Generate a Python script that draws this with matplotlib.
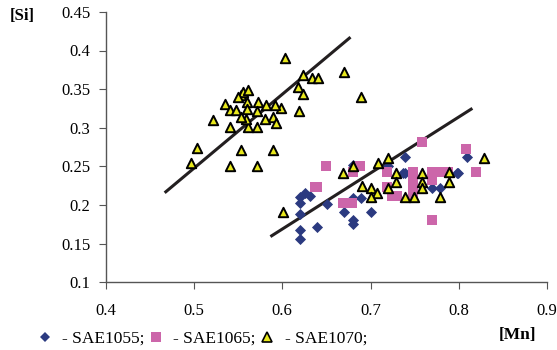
import matplotlib
matplotlib.use("Agg")
from matplotlib import pyplot as plt
from matplotlib.lines import Line2D

# SAE1055 (diamonds)
mn_1055 = [0.626, 0.620, 0.631, 0.620, 0.651, 0.620, 0.620, 0.620, 0.639, 0.670,
           0.680, 0.680, 0.700, 0.689, 0.680, 0.737, 0.680, 0.720, 0.739, 0.739,
           0.770, 0.779, 0.799, 0.809, 0.798]
si_1055 = [0.215, 0.210, 0.212, 0.202, 0.201, 0.188, 0.167, 0.156, 0.171, 0.191,
           0.180, 0.175, 0.191, 0.209, 0.209, 0.241, 0.252, 0.250, 0.262, 0.241,
           0.222, 0.222, 0.241, 0.262, 0.241]

# SAE1065 (squares)
mn_1065 = [0.649, 0.639, 0.688, 0.669, 0.679, 0.758, 0.808, 0.820, 0.770, 0.719,
           0.719, 0.724, 0.730, 0.748, 0.748, 0.748, 0.770, 0.779, 0.770, 0.748,
           0.788, 0.637, 0.680]
si_1065 = [0.251, 0.223, 0.251, 0.202, 0.202, 0.281, 0.272, 0.242, 0.181, 0.242,
           0.223, 0.211, 0.211, 0.242, 0.232, 0.223, 0.242, 0.242, 0.232, 0.213,
           0.242, 0.223, 0.242]

# SAE1070 (triangles)
mn_1070 = [0.619, 0.590, 0.601, 0.669, 0.680, 0.708, 0.720, 0.690, 0.700, 0.707,
           0.700, 0.720, 0.729, 0.729, 0.739, 0.749, 0.758, 0.758, 0.758, 0.779,
           0.789, 0.789, 0.829,
           0.603, 0.624, 0.634, 0.641, 0.670, 0.689, 0.618, 0.624, 0.598, 0.592,
           0.590, 0.593, 0.580, 0.571, 0.561, 0.559, 0.541, 0.521, 0.535, 0.541,
           0.547, 0.553, 0.556, 0.561, 0.560, 0.573, 0.582, 0.553, 0.571, 0.560,
           0.503, 0.496, 0.553, 0.541, 0.571, 0.550]
si_1070 = [0.322, 0.271, 0.191, 0.241, 0.250, 0.254, 0.261, 0.224, 0.222, 0.215,
           0.210, 0.222, 0.241, 0.230, 0.210, 0.210, 0.241, 0.230, 0.222, 0.210,
           0.243, 0.230, 0.261,
           0.390, 0.368, 0.364, 0.364, 0.372, 0.340, 0.353, 0.344, 0.326, 0.329,
           0.314, 0.306, 0.311, 0.301, 0.301, 0.311, 0.301, 0.310, 0.331, 0.323,
           0.323, 0.342, 0.346, 0.349, 0.333, 0.333, 0.329, 0.314, 0.322, 0.324,
           0.274, 0.254, 0.271, 0.250, 0.250, 0.340]

# trend lines (endpoints)
trend_a_x = [0.468, 0.676]
trend_a_y = [0.217, 0.416]
trend_b_x = [0.588, 0.814]
trend_b_y = [0.160, 0.324]

labels = ["- SAE1055;", "- SAE1065;", "- SAE1070;"]

plt.rcParams["font.family"] = ["Liberation Serif", "DejaVu Serif"]

fig = plt.figure(figsize=(5.57, 3.5), dpi=100)
ax = fig.add_axes([0.190, 0.194, 0.792, 0.772])

ax.plot(trend_a_x, trend_a_y, color="#231f20", lw=2.2, zorder=1)
ax.plot(trend_b_x, trend_b_y, color="#231f20", lw=2.2, zorder=1)

ax.scatter(mn_1055, si_1055, marker="D", s=32, color="#2b3a80",
           linewidths=0, zorder=2)
ax.scatter(mn_1065, si_1065, marker="s", s=52, color="#cc66aa",
           linewidths=0, zorder=2)
ax.scatter(mn_1070, si_1070, marker="^", s=46, color="#e8e81c",
           edgecolors="black", linewidths=1.4, zorder=3)

ax.set_xlim(0.4, 0.9)
ax.set_ylim(0.1, 0.45)
ax.set_xticks([0.4, 0.5, 0.6, 0.7, 0.8, 0.9])
ax.set_xticklabels(["0.4", "0.5", "0.6", "0.7", "0.8", "0.9"])
ax.set_yticks([0.1, 0.15, 0.2, 0.25, 0.3, 0.35, 0.4, 0.45])
ax.set_yticklabels(["0.1", "0.15", "0.2", "0.25", "0.3", "0.35", "0.4", "0.45"])
ax.spines["top"].set_visible(False)
ax.spines["right"].set_visible(False)
for sp in ("left", "bottom"):
    ax.spines[sp].set_color("#555555")
    ax.spines[sp].set_linewidth(1.0)
ax.tick_params(direction="out", length=5, color="#555555", labelsize=12, pad=6)
ax.tick_params(axis="x", pad=10)

fig.text(0.018, 0.955, "[Si]", fontsize=12, fontweight="bold", ha="left", va="center")
fig.text(0.895, 0.043, "[Mn]", fontsize=12.5, fontweight="bold", ha="left", va="center")

handles = [
    Line2D([], [], ls="none", marker="D", ms=5, color="#2b3a80", mew=0),
    Line2D([], [], ls="none", marker="s", ms=6.5, color="#cc66aa", mew=0),
    Line2D([], [], ls="none", marker="^", ms=6.5, markerfacecolor="#e8e81c",
           markeredgecolor="black", mew=1.2),
]
fig.legend(handles=handles, labels=labels, loc="center left",
           bbox_to_anchor=(38 / 557, 1 - 339 / 350), ncol=3, frameon=False,
           fontsize=12.5, handlelength=0.8, handletextpad=0.6,
           columnspacing=0.25, borderpad=0, borderaxespad=0)

fig.savefig("out.png", dpi=100)
